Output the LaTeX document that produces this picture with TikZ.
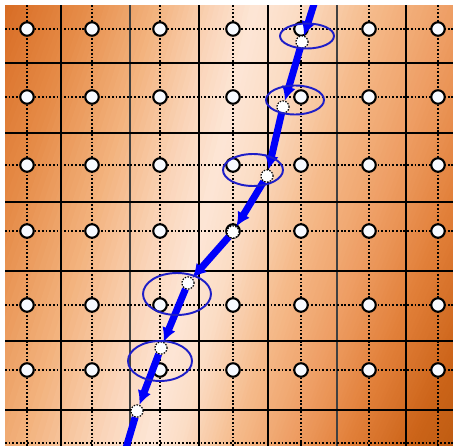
\documentclass[tikz,border=0pt]{standalone}
\usetikzlibrary{arrows.meta}
\definecolor{k0}{RGB}{208,98,25}
\definecolor{k1}{RGB}{216,108,36}
\definecolor{k2}{RGB}{230,140,72}
\definecolor{k3}{RGB}{243,180,128}
\definecolor{k4}{RGB}{250,212,184}
\definecolor{k5}{RGB}{253,230,214}
\definecolor{k6}{RGB}{251,220,196}
\definecolor{k7}{RGB}{245,186,138}
\definecolor{k8}{RGB}{238,158,100}
\definecolor{k9}{RGB}{226,128,58}
\definecolor{k10}{RGB}{204,100,25}
\definecolor{k11}{RGB}{180,86,12}
\definecolor{pathblue}{RGB}{0,0,250}
\definecolor{ellblue}{RGB}{30,30,200}
\definecolor{nodewhite}{RGB}{247,250,255}
\begin{document}
\begin{tikzpicture}[x=0.02cm,y=-0.02cm,
  gc/.style={circle,draw=black,line width=1.2pt,fill=nodewhite,inner sep=0pt,minimum size=0.27cm},
  pn/.style={circle,draw=black,line width=0.6pt,dash pattern=on 0.8pt off 0.8pt,fill=white,inner sep=0pt,minimum size=0.24cm},
  bpath/.style={pathblue,line width=4pt,-{Latex[length=8pt,width=8pt]}},
  bpathplain/.style={pathblue,line width=4pt},
  ell/.style={ellblue,line width=1.1pt},
  solidln/.style={black,line width=1.1pt},
  thinln/.style={black!75,line width=0.7pt},
  dotln/.style={black,line width=0.9pt,dash pattern=on 1pt off 1.1pt}]
\useasboundingbox (0,0) rectangle (453,446);
\begin{scope}
\clip (5,6) rectangle (453,445);
% background bands
\foreach \da/\db/\ca/\cb in {-340/-250/k0/k1,-250/-170/k1/k2,-170/-95/k2/k3,-95/-40/k3/k4,-40/0/k4/k5,0/45/k5/k6,45/120/k6/k7,120/200/k7/k8,200/280/k8/k9,280/370/k9/k10,370/480/k10/k11}{
  \pgfmathtruncatemacro\nn{(\db-\da)/5-1}
  \foreach \i in {0,...,\nn}{
    \pgfmathsetmacro\dd{\da+5*\i}
    \pgfmathtruncatemacro\pp{round(100*(\i*5+2.5)/(\db-\da))}
    \pgfmathsetmacro\kk{\dd<0 ? 1.3 : 0.7}
    \fill[\cb!\pp!\ca] ({255+\dd},5) -- ({261+\dd},5) -- ({150+\kk*(\dd+6)},446) -- ({150+\kk*\dd},446) -- cycle;
  }
}
% solid grid
\foreach \x in {61,199,268,406}{\draw[solidln] (\x,5) -- (\x,446);}
\foreach \x in {130,337}{\draw[thinln] (\x,5) -- (\x,446);}
\foreach \y in {63,133,202,271,341,410}{\draw[solidln] (5,\y) -- (453,\y);}
% dotted grid
\foreach \x in {27,92,160,233,301,369,438}{\draw[dotln] (\x,5) -- (\x,446);}
\foreach \y in {29,97,165,231,305,370,443}{\draw[dotln] (5,\y) -- (453,\y);}
% grid circles
\foreach \x [count=\i] in {27,92,160,233,301,369,438}{
  \foreach \y [count=\j] in {29,97,165,231,305,370}{
    \node[gc] (g-\i-\j) at (\x,\y) {};
  }
}
% path nodes
\coordinate (pt) at (314,4);
\coordinate (pb) at (126,448);
\node[pn] (p7) at (302,42) {};
\node[pn] (p6) at (283,107) {};
\node[pn] (p5) at (267,176) {};
\node[pn] (p4) at (233,232) {};
\node[pn] (p3) at (188,283) {};
\node[pn] (p2) at (161,348) {};
\node[pn] (p1) at (137,411) {};
\draw[bpath] (pt) -- (p7);
\draw[bpath] (p7) -- (p6);
\draw[bpath] (p6) -- (p5);
\draw[bpath] (p5) -- (p4);
\draw[bpath] (p4) -- (p3);
\draw[bpath] (p3) -- (p2);
\draw[bpath] (p2) -- (p1);
\draw[bpathplain] (p1) -- (pb);
% redraw path nodes on top
\foreach \n/\x/\y in {p7/302/42,p6/283/107,p5/267/176,p4/233/232,p3/188/283,p2/161/348,p1/137/411}{
  \node[pn] (\n-top) at (\x,\y) {};
}
% ellipses
\draw[ell] (307,36) ellipse [x radius=0.54cm, y radius=0.25cm];
\draw[ell] (295,100) ellipse [x radius=0.58cm, y radius=0.29cm];
\draw[ell] (253,170) ellipse [x radius=0.60cm, y radius=0.32cm];
\draw[ell] (177,294) ellipse [x radius=0.68cm, y radius=0.42cm];
\draw[ell] (160,361) ellipse [x radius=0.64cm, y radius=0.40cm];
\end{scope}
\end{tikzpicture}
\end{document}
